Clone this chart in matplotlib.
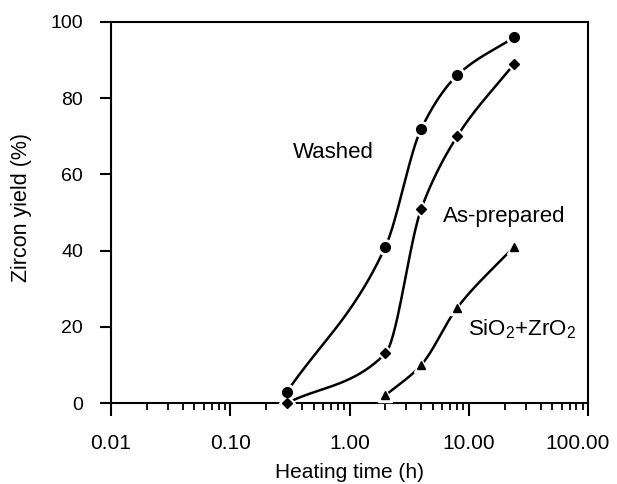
import numpy as np
import matplotlib
matplotlib.use("Agg")
import matplotlib.pyplot as plt
from matplotlib.ticker import LogLocator, FixedLocator, NullFormatter
from matplotlib.transforms import ScaledTranslation

plt.rcParams['font.family'] = ['Liberation Sans', 'DejaVu Sans']
plt.rcParams['mathtext.fontset'] = 'custom'
plt.rcParams['mathtext.rm'] = 'Liberation Sans'
plt.rcParams['mathtext.it'] = 'Liberation Sans:italic'

# Data
washed_t = [0.3, 2, 4, 8, 24]
washed_y = [3, 41, 72, 86, 96]
asprep_t = [0.3, 2, 4, 8, 24]
asprep_y = [0, 13, 51, 70, 89]
mix_t = [2, 4, 8, 24]
mix_y = [2, 10, 25, 41]
xticks = [0.01, 0.1, 1, 10, 100]
xticklabels = ["0.01", "0.10", "1.00", "10.00", "100.00"]
yticks = [0, 20, 40, 60, 80, 100]


def smooth(t, y, n=200):
    """Monotone cubic (Fritsch-Carlson) curve through points in log10(t)."""
    u = np.log10(np.asarray(t, float))
    y = np.asarray(y, float)
    h = np.diff(u)
    d = np.diff(y) / h
    m = np.zeros_like(y)
    m[0], m[-1] = d[0], d[-1]
    for k in range(1, len(y) - 1):
        if d[k - 1] * d[k] <= 0:
            m[k] = 0
        else:
            w1 = 2 * h[k] + h[k - 1]
            w2 = h[k] + 2 * h[k - 1]
            m[k] = (w1 + w2) / (w1 / d[k - 1] + w2 / d[k])
    uu = np.linspace(u[0], u[-1], n)
    idx = np.clip(np.searchsorted(u, uu) - 1, 0, len(u) - 2)
    s = (uu - u[idx]) / h[idx]
    h00 = 2 * s**3 - 3 * s**2 + 1
    h10 = s**3 - 2 * s**2 + s
    h01 = -2 * s**3 + 3 * s**2
    h11 = s**3 - s**2
    yy = h00 * y[idx] + h10 * h[idx] * m[idx] + h01 * y[idx + 1] + h11 * h[idx] * m[idx + 1]
    return 10**uu, yy


fig = plt.figure(figsize=(6.17, 4.84), dpi=100)
ax = fig.add_axes([111 / 617, 1 - 403 / 484, 477 / 617, 381 / 484])

for t, y, mk, ms in [(washed_t, washed_y, 'o', 7),
                     (asprep_t, asprep_y, 'D', 4.6),
                     (mix_t, mix_y, '^', 5.5)]:
    xs, ys = smooth(t, y)
    ax.plot(xs, ys, color='black', lw=1.8, zorder=3, clip_on=False)
    ax.plot(t, y, ls='none', marker=mk, ms=ms + 4, mfc='white', mec='white',
            zorder=4, clip_on=False)
    ax.plot(t, y, ls='none', marker=mk, ms=ms, mfc='black', mec='black',
            zorder=5, clip_on=False)

ax.set_xscale('log')
ax.set_xlim(0.01, 100)
ax.set_ylim(0, 100)
ax.xaxis.set_major_locator(FixedLocator(xticks))
ax.set_xticklabels(xticklabels)
ax.xaxis.set_minor_locator(LogLocator(base=10, subs=np.arange(2, 10)))
ax.xaxis.set_minor_formatter(NullFormatter())
ax.set_yticks(yticks)

ax.tick_params(axis='x', which='major', direction='out', length=9, width=1.5,
               pad=13, labelsize=15)
ax.tick_params(axis='x', which='minor', direction='out', length=5, width=1.3)
ax.tick_params(axis='y', which='major', direction='out', length=8, width=1.5,
               pad=12, labelsize=14)
ax.tick_params(top=False, right=False)
for sp in ax.spines.values():
    sp.set_linewidth(1.5)

# shift the last x tick label slightly left so it stays inside the figure
last = ax.get_xticklabels()[-1]
last.set_transform(last.get_transform() +
                   ScaledTranslation(-10 / 100, 0, fig.dpi_scale_trans))

ax.set_xlabel('Heating time (h)', fontsize=15)
ax.set_ylabel('Zircon yield (%)', fontsize=15.5)
ax.xaxis.set_label_coords(0.5, -0.157)
ax.yaxis.set_label_coords(-0.166, 0.513)

ax.text(0.336, 64.3, 'Washed', fontsize=16, ha='left', va='baseline')
ax.text(6.08, 47.5, 'As-prepared', fontsize=16, ha='left', va='baseline')
ax.text(9.86, 17.8, r'SiO$_2$+ZrO$_2$', fontsize=16, ha='left', va='baseline')

fig.savefig('out.png', dpi=100)
